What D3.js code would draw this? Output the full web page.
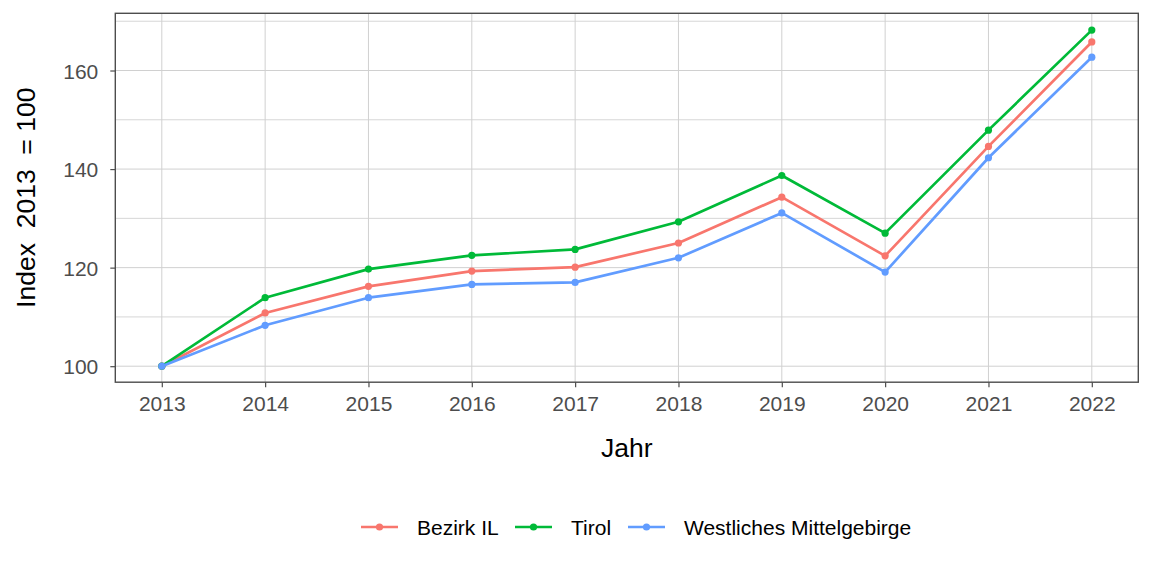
<!DOCTYPE html>
<html>
<head>
<meta charset="utf-8">
<script src="https://cdn.jsdelivr.net/npm/d3@7"></script>
<style>
  body { margin: 0; background: #fff; }
  svg { font-family: "Liberation Sans", Arial, sans-serif; }
</style>
</head>
<body>
<div id="container"></div>
<script>
/* DATA */
const years = [2013, 2014, 2015, 2016, 2017, 2018, 2019, 2020, 2021, 2022];
const seriesNames = ["Bezirk IL", "Tirol", "Westliches Mittelgebirge"];
const bezirkIL = [100, 110.8, 116.2, 119.3, 120.1, 125.0, 134.3, 122.4, 144.6, 165.8];
const tirol = [100, 113.9, 119.7, 122.5, 123.7, 129.3, 138.7, 127.0, 147.9, 168.2];
const westMittel = [100, 108.3, 113.9, 116.6, 117.0, 122.0, 131.1, 119.1, 142.3, 162.7];
const yTicks = [100, 120, 140, 160];
const yMinor = [110, 130, 150, 170];
const colors = ["#F8766D", "#00BA38", "#619CFF"];

/* CONSTANTS */
const width = 1152, height = 576;
const margin = { top: 13.3, right: 13.7, bottom: 193.8, left: 115.3 };

const series = seriesNames.map((name, i) => ({
  name: name,
  color: colors[i],
  values: [bezirkIL, tirol, westMittel][i].map((v, j) => ({ year: years[j], value: v }))
}));

const svg = d3.select("#container")
  .append("svg")
  .attr("width", width)
  .attr("height", height);

/* SCALES (ggplot style 5% expansion) */
const xExt = d3.extent(years);
const xPad = (xExt[1] - xExt[0]) * 0.05;
const xScale = d3.scaleLinear()
  .domain([xExt[0] - xPad, xExt[1] + xPad])
  .range([margin.left, width - margin.right]);

const allVals = bezirkIL.concat(tirol, westMittel);
const yExt = d3.extent(allVals);
const yPad = (yExt[1] - yExt[0]) * 0.05;
const yScale = d3.scaleLinear()
  .domain([yExt[0] - yPad, yExt[1] + yPad])
  .range([height - margin.bottom + 0.8, margin.top]);

const x0 = margin.left, x1 = width - margin.right;
const y0 = height - margin.bottom, y1 = margin.top;

// grid
const grid = svg.append("g");
grid.selectAll("line.minor")
  .data(yMinor.filter(d => yScale(d) >= y1))
  .join("line")
  .attr("x1", x0).attr("x2", x1)
  .attr("y1", d => yScale(d)).attr("y2", d => yScale(d))
  .attr("stroke", "#d6d6d6").attr("stroke-width", 1);
grid.selectAll("line.majorY")
  .data(yTicks)
  .join("line")
  .attr("x1", x0).attr("x2", x1)
  .attr("y1", d => yScale(d)).attr("y2", d => yScale(d))
  .attr("stroke", "#d0d0d0").attr("stroke-width", 1);
grid.selectAll("line.majorX")
  .data(years)
  .join("line")
  .attr("x1", d => xScale(d)).attr("x2", d => xScale(d))
  .attr("y1", y0).attr("y2", y1)
  .attr("stroke", "#d0d0d0").attr("stroke-width", 1);

/* AXES */
const xAxis = d3.axisBottom(xScale)
  .tickValues(years)
  .tickFormat(d3.format("d"))
  .tickSize(5)
  .tickPadding(9);

const yAxis = d3.axisLeft(yScale)
  .tickValues(yTicks)
  .tickSize(5)
  .tickPadding(12);

const gx = svg.append("g")
  .attr("transform", `translate(0, ${y0})`)
  .call(xAxis);
const gy = svg.append("g")
  .attr("transform", `translate(${x0}, 0)`)
  .call(yAxis);

[gx, gy].forEach(g => {
  g.select(".domain").remove();
  g.selectAll(".tick line").attr("stroke", "#4d4d4d").attr("stroke-width", 1.2);
  g.selectAll(".tick text")
    .attr("fill", "#4d4d4d")
    .style("font-size", "21px")
    .style("font-family", "'Liberation Sans', Arial, sans-serif");
});
gy.selectAll(".tick text").attr("dy", "0.36em");

// panel border
svg.append("rect")
  .attr("x", x0).attr("y", y1)
  .attr("width", x1 - x0).attr("height", y0 - y1)
  .attr("fill", "none")
  .attr("stroke", "#4d4d4d")
  .attr("stroke-width", 1.4);

/* LINES AND POINTS */
const line = d3.line()
  .x(d => xScale(d.year))
  .y(d => yScale(d.value));

const sg = svg.selectAll("g.series")
  .data(series)
  .join("g")
  .attr("class", "series");

sg.append("path")
  .attr("d", d => line(d.values))
  .attr("fill", "none")
  .attr("stroke", d => d.color)
  .attr("stroke-width", 2.7)
  .attr("stroke-linejoin", "round");

sg.selectAll("circle")
  .data(d => d.values.map(v => ({ ...v, color: d.color })))
  .join("circle")
  .attr("cx", d => xScale(d.year))
  .attr("cy", d => yScale(d.value))
  .attr("r", 3.6)
  .attr("fill", d => d.color);

/* TITLES */
svg.append("text")
  .attr("x", (x0 + x1) / 2)
  .attr("y", 457)
  .attr("text-anchor", "middle")
  .style("font-size", "26.5px")
  .text("Jahr");

svg.append("text")
  .attr("transform", `translate(35, ${(y0 + y1) / 2}) rotate(-90)`)
  .attr("text-anchor", "middle")
  .style("font-size", "26.5px")
  .style("white-space", "pre")
  .attr("xml:space", "preserve")
  .text("Index  2013  = 100");

/* LEGEND */
const legendX = [361, 515, 628];
const legend = svg.selectAll("g.legend")
  .data(series)
  .join("g")
  .attr("class", "legend")
  .attr("transform", (d, i) => `translate(${legendX[i]}, 527)`);

legend.append("line")
  .attr("x1", 0).attr("x2", 37)
  .attr("stroke", d => d.color)
  .attr("stroke-width", 2.7);
legend.append("circle")
  .attr("cx", 18.5)
  .attr("r", 3.6)
  .attr("fill", d => d.color);
legend.append("text")
  .attr("x", 56)
  .attr("dy", "0.36em")
  .style("font-size", "21px")
  .text(d => d.name);
</script>
</body>
</html>
